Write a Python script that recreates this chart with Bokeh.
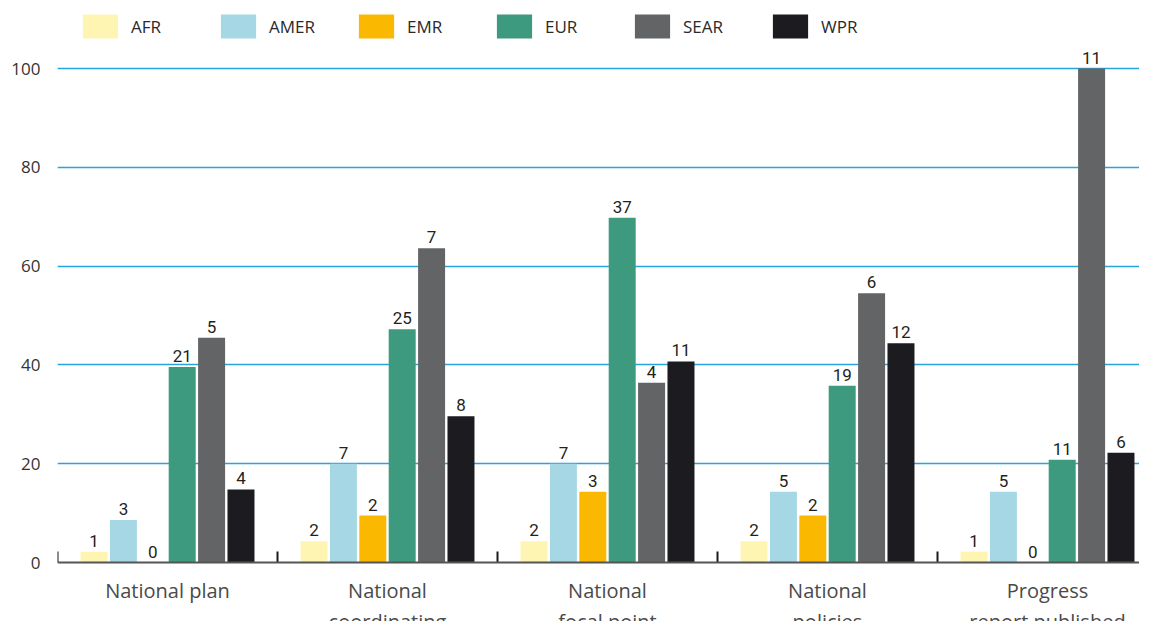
from bokeh.plotting import figure
from bokeh.models import Range1d, FixedTicker, ColumnDataSource, Span, Legend, LegendItem
from bokeh.transform import dodge
from bokeh.core.properties import value
from bokeh.embed import file_html
from bokeh.resources import INLINE

categories = ["National plan", "National\ncoordinating", "National\nfocal point",
              "National\npolicies", "Progress\nreport published"]
regions = ["AFR", "AMER", "EMR", "EUR", "SEAR", "WPR"]
colors = ["#fff5b3", "#a5d8e4", "#fbb800", "#3d9a7e", "#636466", "#1c1b20"]

# bar heights (% of countries) and printed counts
AFR_pct = [2.2, 4.3, 4.3, 4.3, 2.2]
AMER_pct = [8.6, 20.0, 20.0, 14.3, 14.3]
EMR_pct = [0.0, 9.5, 14.3, 9.5, 0.0]
EUR_pct = [39.6, 47.2, 69.8, 35.8, 20.8]
SEAR_pct = [45.5, 63.6, 36.4, 54.5, 100.0]
WPR_pct = [14.8, 29.6, 40.7, 44.4, 22.2]

AFR_n = [1, 2, 2, 2, 1]
AMER_n = [3, 7, 7, 5, 5]
EMR_n = [0, 2, 3, 2, 0]
EUR_n = [21, 25, 37, 19, 11]
SEAR_n = [5, 7, 4, 6, 11]
WPR_n = [4, 8, 11, 12, 6]

y_ticks = [0, 20, 40, 60, 80, 100]

pcts = [AFR_pct, AMER_pct, EMR_pct, EUR_pct, SEAR_pct, WPR_pct]
counts = [AFR_n, AMER_n, EMR_n, EUR_n, SEAR_n, WPR_n]

W, H = 1139, 621
LEFT = 57
frame_w = W - LEFT
group_px = 220.0
px_per_unit = 4.94
base_px = 562  # baseline position from figure top

p = figure(width=W, height=H, output_backend="svg", toolbar_location=None,
           x_range=Range1d(0, frame_w / group_px),
           y_range=Range1d(-(H - base_px) / px_per_unit, base_px / px_per_unit),
           min_border_left=LEFT, min_border_right=0, min_border_top=0, min_border_bottom=0)
p.outline_line_color = None
p.background_fill_color = "white"
p.border_fill_color = "white"
p.xaxis.visible = False
p.xgrid.visible = False

yax = p.yaxis[0]
yax.ticker = FixedTicker(ticks=y_ticks)
yax.axis_line_color = None
yax.major_tick_line_color = None
yax.minor_tick_line_color = None
yax.major_tick_in = 0
yax.major_tick_out = 0
yax.minor_tick_in = 0
yax.minor_tick_out = 0
yax.major_label_standoff = 17
yax.major_label_text_font = "Open Sans"
yax.major_label_text_font_size = "17px"
yax.major_label_text_color = "#333333"

p.ygrid.ticker = FixedTicker(ticks=[t for t in y_ticks if t > 0])
p.ygrid.grid_line_color = "#27a4dc"
p.ygrid.grid_line_width = 1.4

gx = [i + 0.5 for i in range(len(categories))]
stride = 0.1336
bar_w = 0.1227

items = []
for j, (reg, col) in enumerate(zip(regions, colors)):
    src = ColumnDataSource(dict(gx=gx, pct=pcts[j], lab=[str(c) for c in counts[j]]))
    off = (j - 2.5) * stride
    r = p.vbar(x=dodge("gx", off), top="pct", bottom=0, width=bar_w, source=src,
               fill_color=col, line_color=None)
    p.text(x=dodge("gx", off), y="pct", text="lab", source=src, y_offset=-5,
           text_align="center", text_baseline="bottom",
           text_font=value("Roboto"), text_font_size="17px",
           text_color="#231f20")
    items.append(LegendItem(label=reg, renderers=[r]))

# baseline and group-boundary ticks
p.add_layout(Span(location=0, dimension="width", line_color="#555555", line_width=2))
bounds = list(range(len(categories)))
p.segment(x0=bounds, y0=[0] * len(bounds), x1=bounds, y1=[11 / px_per_unit] * len(bounds),
          line_color="#1a1a1a", line_width=2)

# category labels
csrc = ColumnDataSource(dict(gx=gx, y=[0] * len(gx), t=categories))
p.text(x="gx", y="y", text="t", source=csrc, y_offset=14,
       text_align="center", text_baseline="top", text_line_height=1.15,
       text_font=value("Open Sans"), text_font_size="20px", text_color="#4a4a4a")

legend = Legend(items=items, orientation="horizontal", location=(21, 580),
                glyph_width=44, glyph_height=30, label_standoff=9, label_width=50,
                spacing=35, padding=0, margin=0, border_line_color=None,
                background_fill_alpha=0, label_text_font="Open Sans",
                label_text_font_size="17px", label_text_color="#2a2a2a")
p.add_layout(legend)

open("out.html", "w").write(file_html(p, INLINE))
